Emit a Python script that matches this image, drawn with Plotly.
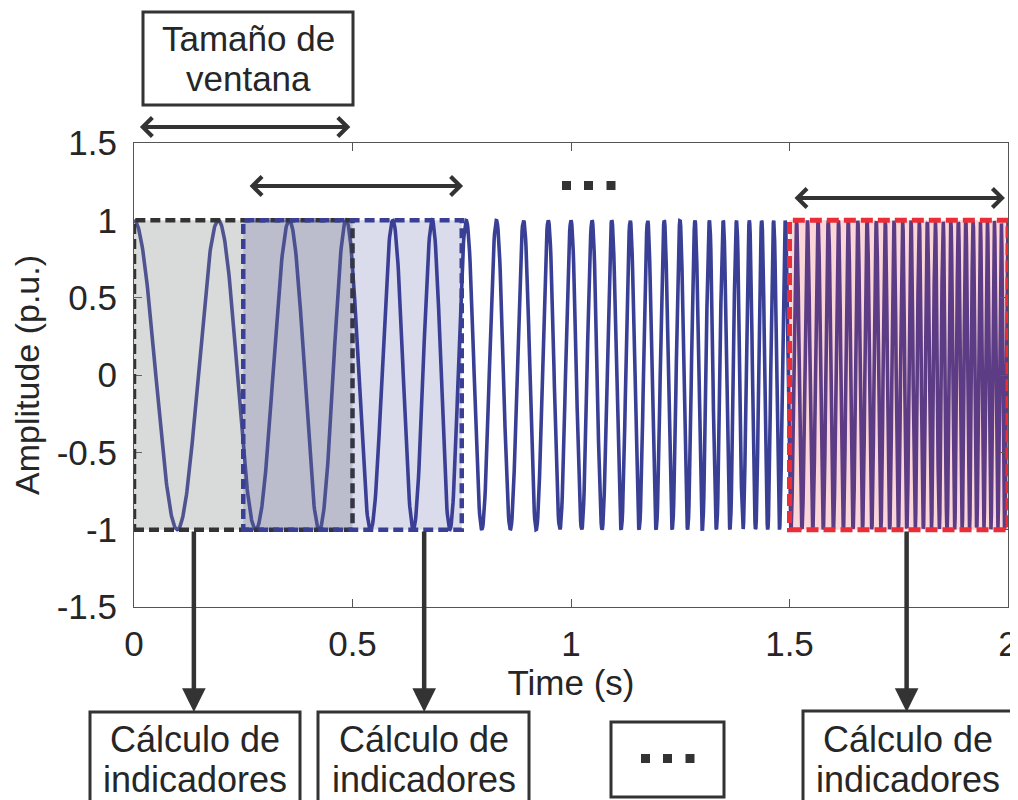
import numpy as np
import plotly.graph_objects as go

# ---------------- data ----------------
# quadratic chirp: 5 Hz at t=0, 20 Hz at t=1 s (read from peak positions)
chirp_f0 = 5.0
chirp_t1 = 1.0
chirp_f1 = 20.0
sample_rate = 1000
time_span = [0.0, 2.0]

x_tickvals = [0, 0.5, 1, 1.5, 2]
x_ticktext = ["0", "0.5", "1", "1.5", "2"]
y_tickvals = [-1.5, -1, -0.5, 0, 0.5, 1, 1.5]
y_ticktext = ["-1.5", "-1", "-0.5", "0", "0.5", "1", "1.5"]

window_starts = [0.0, 0.25, 1.5]
window_ends = [0.5, 0.75, 2.0]
window_low, window_high = -1, 1

top_label = ["Tamaño de", "ventana"]
box_label = ["Cálculo de", "indicadores"]
x_title = "Time (s)"
y_title = "Amplitude (p.u.)"

# ---------------- signal ----------------
t = np.arange(time_span[0], time_span[1] + 0.5 / sample_rate, 1.0 / sample_rate)
beta = (chirp_f1 - chirp_f0) / chirp_t1 ** 2
signal = np.cos(2 * np.pi * (chirp_f0 * t + beta / 3.0 * t ** 3))

# ---------------- layout helpers ----------------
# the page body has an 8px margin: the figure is made 8px smaller and
# everything is laid out in window pixels of the reference
OFF = 8
W, H = 1018 - OFF, 800 - OFF
PLOT_X0, PLOT_X1, PLOT_Y0, PLOT_Y1 = 134, 1008, 143, 607   # window px
L, R = PLOT_X0 - OFF, (1018 - PLOT_X1)
T, B = PLOT_Y0 - OFF, (800 - PLOT_Y1)
PW, PH = PLOT_X1 - PLOT_X0, PLOT_Y1 - PLOT_Y0


def px(xp):
    return (xp - PLOT_X0) / PW


def py(yp):
    return (PLOT_Y1 - yp) / PH


FONT = "Liberation Sans, Arial, sans-serif"
TXT = "#262626"
DARK = "#333333"
BLUE = "rgb(58,63,150)"
RED = "rgb(235,45,55)"

fig = go.Figure()
fig.add_trace(go.Scatter(x=t, y=signal, mode="lines",
                         line=dict(color=BLUE, width=3.6), hoverinfo="skip",
                         showlegend=False))

shapes = []
win_styles = [
    dict(fill="rgba(128,132,132,0.30)", line=DARK, dash="10px,5px", w=4.5),
    dict(fill="rgba(58,63,150,0.19)", line=BLUE, dash="10px,5px", w=4.5),
    dict(fill="rgba(232,49,58,0.20)", line=RED, dash="12px,5px", w=5),
]
for x0, x1, st in zip(window_starts, window_ends, win_styles):
    shapes.append(dict(type="rect", xref="x", yref="y", x0=x0, x1=x1,
                       y0=window_low, y1=window_high,
                       fillcolor=st["fill"],
                       line=dict(color=st["line"], width=st["w"], dash=st["dash"]),
                       layer="above"))


def box(x0p, y0p, x1p, y1p, w=3):
    shapes.append(dict(type="rect", xref="paper", yref="paper",
                       x0=px(x0p), x1=px(x1p), y0=py(y1p), y1=py(y0p),
                       line=dict(color=DARK, width=w), fillcolor="rgba(0,0,0,0)"))


box(143, 12, 353, 105)
box(90, 712, 300, 806)
box(318, 712, 529, 806)
box(611, 722, 724, 797)
box(803, 711, 1013, 806)


def dots(cxs, cy, s=9):
    for cx in cxs:
        shapes.append(dict(type="rect", xref="paper", yref="paper",
                           x0=px(cx - s / 2), x1=px(cx + s / 2),
                           y0=py(cy + s / 2), y1=py(cy - s / 2),
                           line=dict(width=0), fillcolor=DARK))


dots([566.5, 588.5, 611], 185.5)
dots([645.5, 667.5, 690], 758.5)

annotations = []


def darrow(x0, x1, yp):
    annotations.append(dict(x=x1, y=py(yp), xref="x", yref="paper",
                            ax=x0, ay=0, axref="x", ayref="pixel",
                            text="", showarrow=True, arrowside="end+start",
                            arrowhead=4, startarrowhead=4,
                            arrowsize=0.92, startarrowsize=0.92,
                            arrowwidth=4, arrowcolor=DARK, standoff=0,
                            startstandoff=0))


darrow(0.01, 0.495, 127)
darrow(0.261, 0.753, 186)
darrow(1.508, 1.993, 198)

for xd in [0.137, 0.664, 1.768]:
    annotations.append(dict(x=xd, y=py(712), xref="x", yref="paper",
                            ax=0, ay=-(712 - 530), text="", showarrow=True,
                            arrowhead=2, arrowsize=1.05, arrowwidth=4.5,
                            arrowcolor=DARK, standoff=0))


def label(cx, cy, s, size):
    annotations.append(dict(x=px(cx), y=py(cy), xref="paper", yref="paper",
                            text=s, showarrow=False, xanchor="center",
                            yanchor="middle",
                            font=dict(family=FONT, size=size, color=TXT)))


label(248, 38, top_label[0], 35)
label(248, 79, top_label[1], 35)
for cx in [195, 423.5, 908]:
    label(cx, 739, box_label[0], 36)
    label(cx, 779, box_label[1], 36)

fig.update_layout(
    width=W, height=H, autosize=False,
    margin=dict(l=L, r=R, t=T, b=B, pad=0, autoexpand=False),
    paper_bgcolor="white", plot_bgcolor="white",
    shapes=shapes, annotations=annotations,
    font=dict(family=FONT, color=TXT, size=35),
    xaxis=dict(range=time_span, tickvals=x_tickvals, ticktext=x_ticktext,
               automargin=False,
               showgrid=False, zeroline=False, showline=True, mirror="ticks",
               linecolor="#555555", linewidth=1, ticks="inside", ticklen=8,
               tickcolor="#555555", ticklabelstandoff=6,
               tickfont=dict(family=FONT, size=35, color=TXT),
               title=dict(text=x_title, standoff=6,
                          font=dict(family=FONT, size=35, color=TXT))),
    yaxis=dict(range=[-1.5, 1.5], tickvals=y_tickvals, ticktext=y_ticktext,
               automargin=False,
               showgrid=False, zeroline=False, showline=True, mirror="ticks",
               linecolor="#555555", linewidth=1, ticks="inside", ticklen=8,
               tickcolor="#555555", ticklabelstandoff=9,
               tickfont=dict(family=FONT, size=35, color=TXT),
               title=dict(text=y_title, standoff=8,
                          font=dict(family=FONT, size=34, color=TXT))),
)

fig.write_html("out.html")
